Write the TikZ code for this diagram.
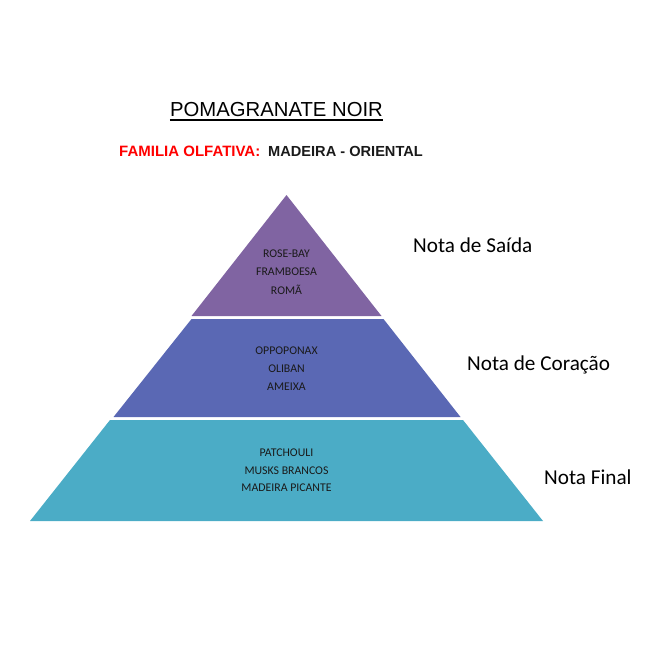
\documentclass[tikz,border=0pt]{standalone}
\usepackage{fontspec}
\setmainfont{Carlito}
\newfontfamily\arialfont{Liberation Sans}
\definecolor{toppurple}{HTML}{8064A2}
\definecolor{midblue}{HTML}{5A68B4}
\definecolor{lowaqua}{HTML}{4BACC6}
\definecolor{famred}{HTML}{FF0000}
\definecolor{txtdark}{HTML}{1A1A1A}
\tikzset{
  layer/.style={draw=none},
  inner/.style={inner sep=0pt, anchor=base, text=txtdark, font=\fontsize{11.8}{13}\selectfont},
  notelabel/.style={inner sep=0pt, anchor=base west, text=black, font=\fontsize{21.2}{25}\selectfont},
}
\begin{document}
\begin{tikzpicture}[x=1pt,y=-1pt]
\useasboundingbox (0,0) rectangle (647,648);
% pyramid layers
\fill[toppurple] (286.5,195) -- (381.5,316) -- (191.5,316) -- cycle;
\fill[midblue] (191.5,319) -- (383.5,319) -- (460.5,417) -- (113.5,417) -- cycle;
\fill[lowaqua] (110,420) -- (463,420) -- (543,521) -- (30,521) -- cycle;
% title
\node[inner sep=0pt, anchor=base, font=\arialfont\fontsize{20.3}{24}\selectfont] (title) at (276.5,116.7) {POMAGRANATE NOIR};
\draw[line width=1.4pt] ([yshift=-3.4pt]title.base west) -- ([yshift=-3.4pt]title.base east);
\node[inner sep=0pt, anchor=base west, text=famred, font=\arialfont\bfseries\fontsize{15}{17}\selectfont] (family) at (119,156.7) {FAMILIA OLFATIVA:};
\node[inner sep=0pt, anchor=base west, text=txtdark, font=\arialfont\bfseries\fontsize{14.6}{17}\selectfont] (familyval) at (268,156.7) {MADEIRA - ORIENTAL};
% inner texts
\node[inner] (t1) at (286.5,257) {ROSE-BAY};
\node[inner] (t2) at (286.5,275.5) {FRAMBOESA};
\node[inner] (t3) at (286.5,294) {ROMÃ};
\node[inner] (m1) at (286.5,354.3) {OPPOPONAX};
\node[inner] (m2) at (286.5,372.3) {OLIBAN};
\node[inner] (m3) at (286.5,390) {AMEIXA};
\node[inner] (b1) at (286.5,456) {PATCHOULI};
\node[inner] (b2) at (286.5,474) {MUSKS BRANCOS};
\node[inner] (b3) at (286.5,491.7) {MADEIRA PICANTE};
% side labels
\node[notelabel] (saida) at (413,252) {Nota de Saída};
\node[notelabel] (coracao) at (467,370) {Nota de Coração};
\node[notelabel] (final) at (544,484.3) {Nota Final};
\end{tikzpicture}
\end{document}
